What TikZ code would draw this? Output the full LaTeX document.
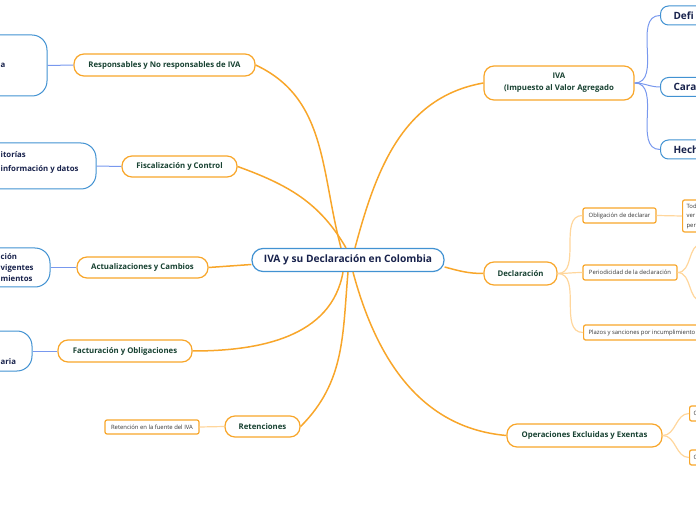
\documentclass[tikz,border=0pt]{standalone}
\usepackage{fontspec}
\setmainfont{Open Sans}
\usepackage{xcolor}
\definecolor{mmorange}{RGB}{248,166,42}
\definecolor{mmlight}{RGB}{255,214,156}
\definecolor{mmblue}{RGB}{66,146,210}
\definecolor{mmline}{RGB}{120,152,238}
\definecolor{mmgreen}{RGB}{24,66,50}
\definecolor{mmnavy}{RGB}{24,34,76}
\definecolor{mmgray}{RGB}{55,55,55}

\begin{document}
\begin{tikzpicture}[x=1pt,y=1pt,
    root/.style={draw=mmblue, line width=1.2pt, rounded corners=11pt, fill=white, text=mmnavy,
      font=\fontsize{10.2}{12}\selectfont\bfseries, minimum width=192pt, minimum height=23pt, inner sep=0pt},
    branch/.style={draw=mmorange, line width=1.2pt, rounded corners=10pt, fill=white, text=mmgreen,
      font=\fontsize{7.8}{12}\selectfont\bfseries, inner sep=0pt, align=center},
    topic/.style={draw=mmblue, line width=1pt, rounded corners=15pt, fill=white, inner sep=0pt},
    topictext/.style={anchor=west, text=mmnavy, font=\fontsize{7.8}{11}\selectfont\bfseries, align=left, inner sep=0pt},
    side/.style={draw=mmblue, line width=1pt, rounded corners=8pt, fill=white, text=mmnavy, anchor=west,
      font=\fontsize{10}{12}\selectfont\bfseries, minimum height=19pt, inner xsep=13pt, inner ysep=0pt},
    leaf/.style={draw=mmorange, line width=1.2pt, rounded corners=2pt, fill=white, text=mmgray,
      font=\fontsize{5.9}{9.5}\selectfont, minimum height=15pt, inner sep=0pt, align=left},
    main/.style={draw=mmorange, line width=1.5pt},
    fork/.style={draw=mmlight, line width=1.2pt},
    link/.style={draw=mmline, line width=1pt}]
    \useasboundingbox (0,0) rectangle (696,520);
    \clip (0,0) rectangle (696,520);

    \node[root] (c) at (348,260) {IVA y su Declaración en Colombia};

    \node[branch, minimum width=181pt, minimum height=22pt] (resp) at (164.5,455) {Responsables y No responsables de IVA};
    \node[branch, minimum width=115pt, minimum height=21pt] (fisc) at (179.5,353.5) {Fiscalización y Control};
    \node[branch, minimum width=131pt, minimum height=21pt] (actu) at (142.5,252.5) {Actualizaciones y Cambios};
    \node[branch, minimum width=134pt, minimum height=22pt] (fact) at (125,169) {Facturación y Obligaciones};
    \node[branch, minimum width=75pt, minimum height=21pt] (rete) at (262.5,93.5) {Retenciones};
    \node[branch, minimum width=150pt, minimum height=34pt] (iva) at (559,437) {IVA\\(Impuesto al Valor Agregado};
    \node[branch, minimum width=73pt, minimum height=23pt] (decl) at (520.5,246.5) {Declaración};
    \node[branch, minimum width=155pt, minimum height=23pt] (oper) at (584.5,84.5) {Operaciones Excluidas y Exentas};

    \node[topic, minimum width=137pt, minimum height=61pt] (b1) at (-21.5,454.5) {};
    \node[topic, minimum width=156pt, minimum height=46pt] (b2) at (18,354) {};
    \node[topic, minimum width=130pt, minimum height=39pt] (b3) at (-15,252.5) {};
    \node[topic, minimum width=132pt, minimum height=40pt] (b4) at (-34,169) {};
    \node[topictext] (b1t) at (0.5,455) {a};
    \node[topictext, font=\fontsize{7.8}{14}\selectfont\bfseries] (b2t) at (0.5,357.5) {itorías\\información y datos};
    \node[topictext] (b3t) at (0.5,252) {ción\\vigentes\\mientos};
    \node[topictext] (b4t) at (0.5,158) {aria};

    \node[side] (def) at (660,504.5) {Defi};
    \node[side] (cara) at (660,433) {Cara};
    \node[side] (hech) at (660,370.5) {Hech};

    \node[leaf, minimum width=73pt] (obl) at (619.5,304.5) {Obligación de declarar};
    \node[leaf, anchor=west, minimum height=32pt, inner xsep=4pt] (tod) at (682,304) {Tod\\ver\\per};
    \node[leaf, minimum width=94pt] (per) at (630,247.5) {Periodicidad de la declaración};
    \node[leaf, anchor=west, inner xsep=5pt] (plaz) at (583,187.5) {Plazos y sanciones por incumplimiento};
    \coordinate (per1) at (702,276);
    \coordinate (per2) at (702,219);
    \node[leaf, anchor=west, inner xsep=4pt] (op1) at (689,106.5) {O};
    \node[leaf, anchor=west, inner xsep=4pt] (op2) at (689,62.5) {O};
    \node[leaf, minimum width=94pt, minimum height=14pt] (retf) at (152,93) {Retención en la fuente del IVA};

    \draw[main] (resp.east) to[out=-25,in=105] ([xshift=-7pt]c.north);
    \draw[main] (fisc.east) to[out=-20,in=120] ([xshift=-2pt]c.north);
    \draw[main] (actu.east) -- ([yshift=-4.5pt]c.west);
    \draw[main] (fact.east) to[out=0,in=-100] ([xshift=-5pt]c.south);
    \draw[main] (rete.east) to[out=45,in=-95] (c.south);
    \draw[main] (iva.west) to[out=190,in=75] ([xshift=7pt]c.north);
    \draw[main] (decl.west) to[out=180,in=-15] ([yshift=-7pt]c.east);
    \draw[main] (oper.west) to[out=175,in=-75] ([xshift=5pt]c.south);

    \draw[link] (b1.east) -- (resp.west);
    \draw[link] (b2.east) -- (fisc.west);
    \draw[link] (b3.east) -- (actu.west);
    \draw[link] (b4.east) -- (fact.west);
    \draw[link] (iva.east) to[out=0,in=180] (def.west);
    \draw[link] (iva.east) to[out=0,in=180] (cara.west);
    \draw[link] (iva.east) to[out=0,in=180] (hech.west);

    \draw[fork] (decl.east) to[out=0,in=180] (obl.west);
    \draw[fork] (decl.east) to[out=0,in=180] (per.west);
    \draw[fork] (decl.east) to[out=0,in=180] (plaz.west);
    \draw[fork] (obl.east) -- (tod.west);
    \draw[fork] (per.east) to[out=0,in=180] (per1);
    \draw[fork] (per.east) to[out=0,in=180] (per2);
    \draw[fork] (oper.east) to[out=0,in=180] (op1.west);
    \draw[fork] (oper.east) to[out=0,in=180] (op2.west);
    \draw[fork] (retf.east) -- (rete.west);
\end{tikzpicture}
\end{document}
